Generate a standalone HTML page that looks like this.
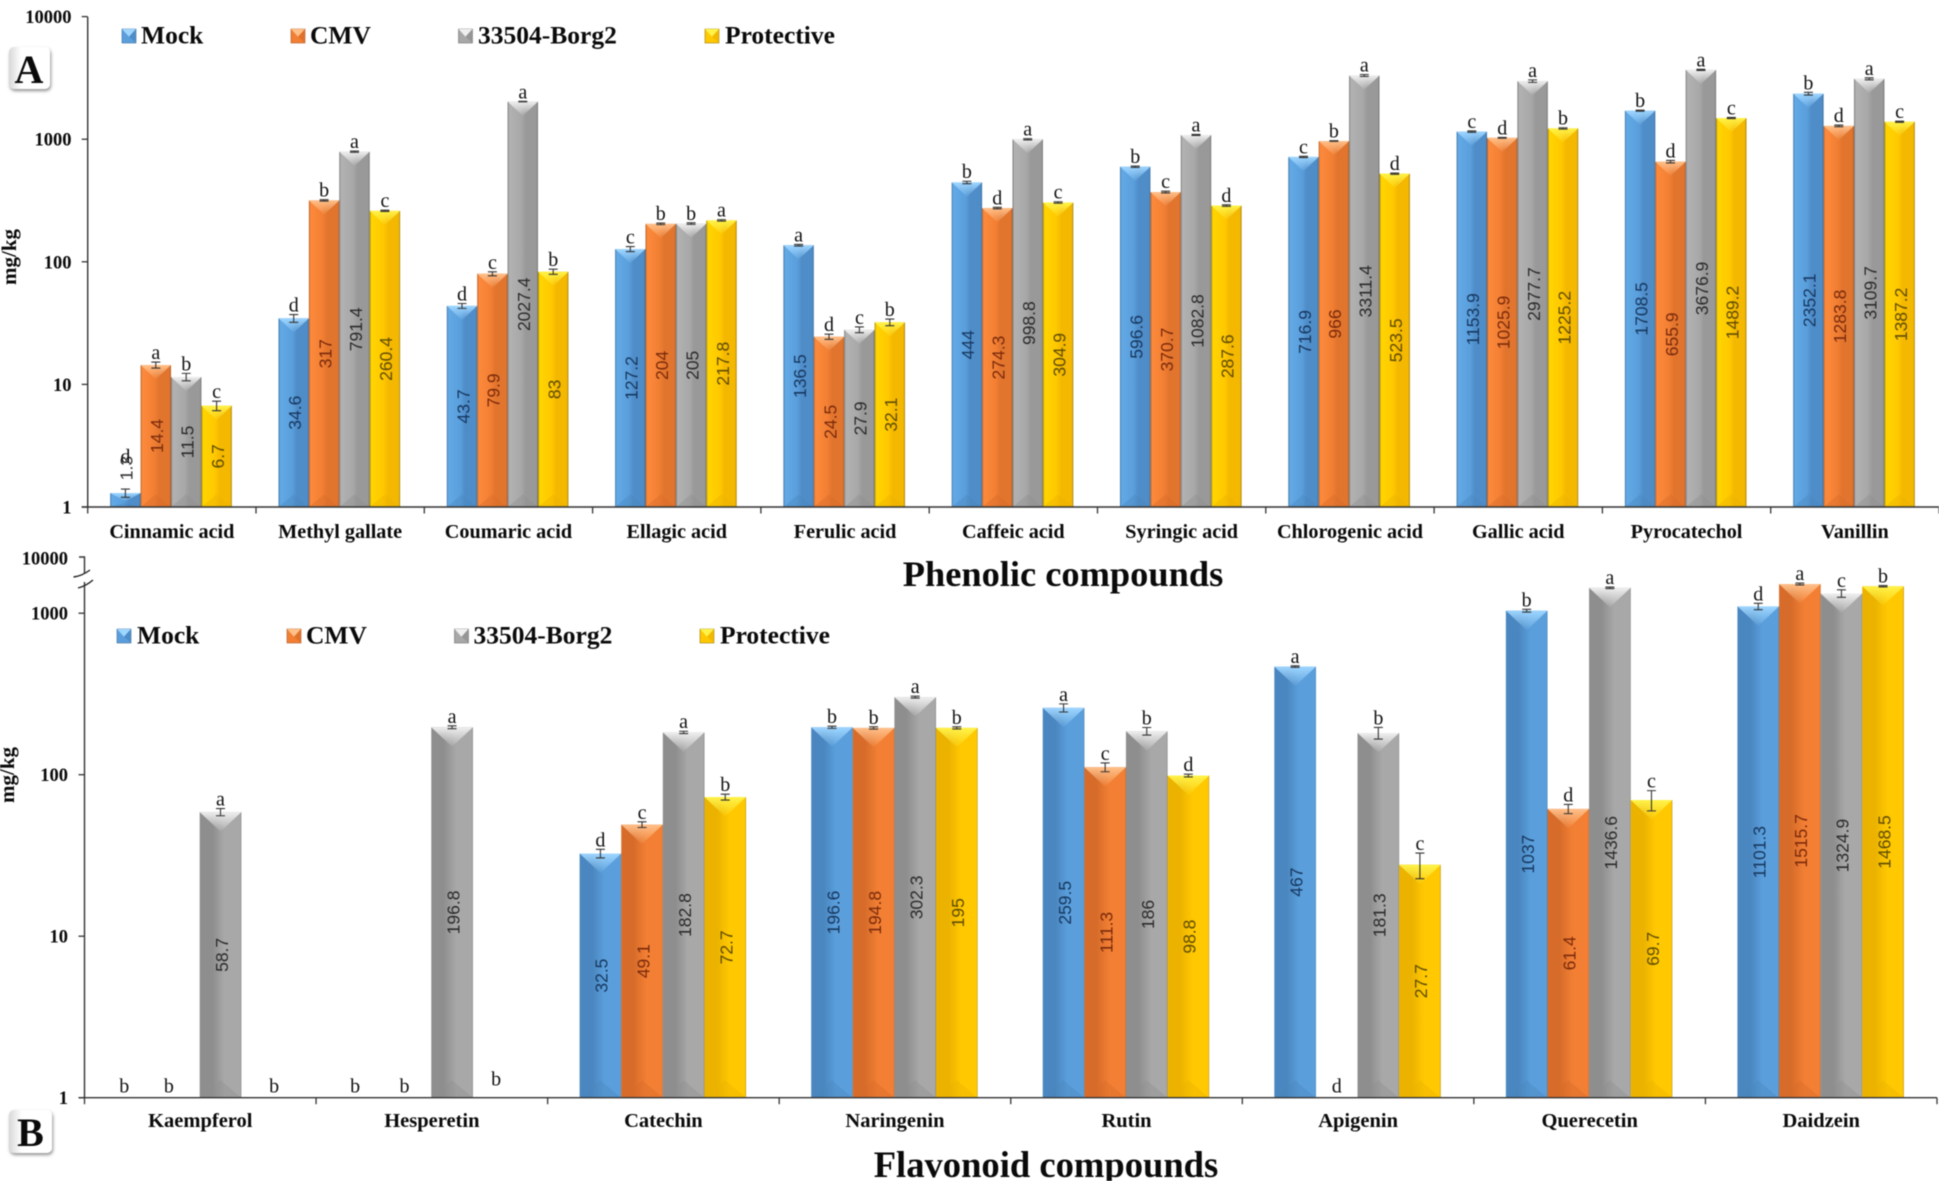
<!DOCTYPE html>
<html lang="en">
<head>
<meta charset="utf-8">
<title>Phenolic and flavonoid compounds</title>
<style>
html,body{margin:0;padding:0;background:#fff;}
svg{display:block;filter:blur(0.4px);}
.serif{font-family:"Liberation Serif",serif;}
.bold{font-family:"Liberation Serif",serif;font-weight:bold;fill:#0a0a0a;}
.val{font-family:"Liberation Sans",sans-serif;font-size:17.5px;}
.sig{font-family:"Liberation Serif",serif;font-size:20px;fill:#111;}
</style>
</head>
<body>
<svg id="figure" xmlns="http://www.w3.org/2000/svg" width="1939" height="1181" viewBox="0 0 1939 1181">
  <defs id="defs">
    <filter id="badgeShadow" x="-20%" y="-20%" width="150%" height="150%">
      <feDropShadow dx="1" dy="2" stdDeviation="1.5" flood-color="#777" flood-opacity="0.8"/>
    </filter>
    <linearGradient id="badgeFill" x1="0" y1="0" x2="1" y2="0">
      <stop offset="0" stop-color="#d8d8d8"/><stop offset="0.3" stop-color="#fff"/><stop offset="1" stop-color="#fff"/>
    </linearGradient>
  </defs>

  <g id="chartA"></g>
  <g id="chartB"></g>

  <text class="bold" x="1063" y="586" font-size="36.4" text-anchor="middle">Phenolic compounds</text>
  <text class="bold" x="1046" y="1177" font-size="36.6" text-anchor="middle">Flavonoid compounds</text>

  <g>
    <rect x="9" y="47" width="41" height="42" rx="5" fill="url(#badgeFill)" filter="url(#badgeShadow)"/>
    <text class="bold" x="29" y="83" font-size="40" text-anchor="middle">A</text>
  </g>
  <g>
    <rect x="9" y="1110" width="43" height="43" rx="5" fill="url(#badgeFill)" filter="url(#badgeShadow)"/>
    <text class="bold" x="30.5" y="1146" font-size="40" text-anchor="middle">B</text>
  </g>
</svg>

<script>
// ---------- Panel A data (mg/kg) ----------
const phenolicCategories = ["Cinnamic acid","Methyl gallate","Coumaric acid","Ellagic acid","Ferulic acid","Caffeic acid","Syringic acid","Chlorogenic acid","Gallic acid","Pyrocatechol","Vanillin"];
const phenolicMock = [1.3,34.6,43.7,127.2,136.5,444,596.6,716.9,1153.9,1708.5,2352.1];
const phenolicCmv = [14.4,317,79.9,204,24.5,274.3,370.7,966,1025.9,655.9,1283.8];
const phenolicBorg = [11.5,791.4,2027.4,205,27.9,998.8,1082.8,3311.4,2977.7,3676.9,3109.7];
const phenolicProtective = [6.7,260.4,83,217.8,32.1,304.9,287.6,523.5,1225.2,1489.2,1387.2];
const phenolicMockErr = [0.1,2.5,2,6,2,10,8,8,15,15,60];
const phenolicCmvErr = [0.8,4,3,3,1.2,4,6,6,8,15,20];
const phenolicBorgErr = [0.8,10,10,3,1.5,12,10,60,70,40,60];
const phenolicProtectiveErr = [0.6,3,4,3,2,4,4,6,15,15,15];
const phenolicMockSig = ["d","d","d","c","a","b","b","c","c","b","b"];
const phenolicCmvSig = ["a","b","c","b","d","d","c","b","d","d","d"];
const phenolicBorgSig = ["b","a","a","b","c","a","a","a","a","a","a"];
const phenolicProtectiveSig = ["c","c","b","a","b","c","d","d","b","c","c"];

// ---------- Panel B data (mg/kg, 0 = not detected) ----------
const flavonoidCategories = ["Kaempferol","Hesperetin","Catechin","Naringenin","Rutin","Apigenin","Querecetin","Daidzein"];
const flavonoidMock = [0,0,32.5,196.6,259.5,467,1037,1101.3];
const flavonoidCmv = [0,0,49.1,194.8,111.3,0,61.4,1515.7];
const flavonoidBorg = [58.7,196.8,182.8,302.3,186,181.3,1436.6,1324.9];
const flavonoidProtective = [0,0,72.7,195,98.8,27.7,69.7,1468.5];
const flavonoidMockErr = [0,0,2,3,15,5,20,50];
const flavonoidCmvErr = [0,0,2,3,7,0,4,20];
const flavonoidBorgErr = [3,4,3,4,10,15,15,70];
const flavonoidProtectiveErr = [0,0,3,3,2,5,10,15];
const flavonoidMockSig = ["b","b","d","b","a","a","b","d"];
const flavonoidCmvSig = ["b","b","c","b","c","d","d","a"];
const flavonoidBorgSig = ["a","a","a","a","b","b","a","c"];
const flavonoidProtectiveSig = ["b","b","b","b","d","c","c","b"];

// ---------- Shared labels ----------
const seriesNames = ["Mock","CMV","33504-Borg2","Protective"];
const phenolicTicks = [1,10,100,1000,10000];
const flavonoidTicks = [1,10,100,1000];
const flavonoidBreakTickLabel = "10000";
const yAxisTitle = "mg/kg";

const NS = "http://www.w3.org/2000/svg";
const defs = document.getElementById("defs");

function make(tag, attrs, parent, text) {
  const n = document.createElementNS(NS, tag);
  for (const k in attrs) n.setAttribute(k, attrs[k]);
  if (text !== undefined) n.textContent = text;
  parent.appendChild(n);
  return n;
}

function gradient(id, horizontal, stops) {
  const g = make("linearGradient", horizontal ? {id:id,x1:0,y1:0,x2:1,y2:0} : {id:id,x1:0,y1:0,x2:0,y2:1}, defs);
  stops.forEach(function (s) {
    make("stop", {offset:s[0], "stop-color":s[1], "stop-opacity":s[2] === undefined ? 1 : s[2]}, g);
  });
}

const looks = [
  {key:"blue", light:"#62a9e6", mid:"#5a9fdc", soft:"#4f8dc9", dark:"#4a86bf", edge:"#3b6d9c", tip:"#9fd6ff", label:"#17375e"},
  {key:"orange", light:"#fd8a3c", mid:"#f27f33", soft:"#e2752e", dark:"#d76c2a", edge:"#a85a25", tip:"#ffc08a", label:"#7a2a0c"},
  {key:"gray", light:"#b2b2b2", mid:"#a8a8a8", soft:"#999999", dark:"#8e8e8e", edge:"#6f6f6f", tip:"#efefef", label:"#2b2b2b"},
  {key:"yellow", light:"#ffd500", mid:"#ffc800", soft:"#f4b800", dark:"#ebb200", edge:"#9b7c10", tip:"#fff34a", label:"#5f4c00"}
];
looks.forEach(function (c) {
  gradient("bodyA-" + c.key, true, [[0,c.edge],[0.05,c.light],[0.45,c.mid],[0.6,c.soft],[0.95,c.soft],[1,c.edge]]);
  gradient("bodyB-" + c.key, true, [[0,c.dark],[0.3,c.dark],[0.6,c.mid],[0.98,c.mid],[1,c.edge]]);
  gradient("tip-" + c.key, false, [[0,c.tip,1],[1,c.tip,0.05]]);
});

function drawChart(root, cfg) {
  const y = function (v) { return cfg.base - cfg.decade * Math.log10(v); };
  const catW = (cfg.xEnd - cfg.xStart) / cfg.categories.length;
  const barW = cfg.barW;
  const groupOffset = cfg.groupOffset;

  // bars, error bars, labels
  cfg.categories.forEach(function (name, ci) {
    const cx0 = cfg.xStart + ci * catW + groupOffset;
    cfg.series.forEach(function (vals, si) {
      const v = vals[ci];
      const x = cx0 + si * barW;
      const mid = x + barW / 2;
      const look = looks[si];
      const sig = cfg.sig[si][ci];
      if (v > 0) {
        const top = y(v);
        const group = make("g", {}, root);
        
        
        make("rect", {x:x, y:top, width:barW, height:cfg.base - top, fill:"url(#" + cfg.bodyPrefix + look.key + ")"}, group);
        const depth = Math.min(barW * 0.47, (cfg.base - top) * 0.6);
        make("polygon", {points:[x,top,x + barW,top,mid,top + depth].join(" "), fill:"url(#tip-" + look.key + ")"}, group);
        const lowDepth = Math.min(barW * 0.42, (cfg.base - top) * 0.3);
        make("polygon", {points:[x,cfg.base,x + barW,cfg.base,mid,cfg.base - lowDepth].join(" "), fill:look.dark, "fill-opacity":0.4}, group);

        // error bar
        const e = cfg.err[si][ci];
        const yHi = y(v + e);
        const yLo = y(Math.max(v - e, 0.01));
        const errBar = make("path", {d:"M" + (mid - 4.5) + " " + yHi + "H" + (mid + 4.5) + "M" + mid + " " + yHi + "V" + yLo + "M" + (mid - 4.5) + " " + yLo + "H" + (mid + 4.5), stroke:"#333", "stroke-width":1.1, fill:"none"}, root);
        
        

        // value label
        const short = cfg.base - top < 40;
        const labelY = short ? top - 25 : (top + cfg.base) / 2;
        const labelX = mid + 1;
        const value = make("text", {class:"val", x:labelX, y:labelY, dy:"0.36em", "text-anchor":"middle", fill:short ? "#333" : look.label, transform:"rotate(-90 " + labelX + " " + labelY + ")"}, root, String(v));
        
        

        // significance letter
        const letterY = short ? top - 30 : yHi - 3;
        const letter = make("text", {class:"sig", x:mid, y:letterY, "text-anchor":"middle"}, root, sig);
        
        
      } else {
        const nudge = cfg.zeroNudge[ci] ? cfg.zeroNudge[ci][si] : 0;
        const letterZero = make("text", {class:"sig", x:mid + nudge, y:cfg.base - (ci === 1 && si === 3 ? 12 : 5), "text-anchor":"middle"}, root, sig);
        
        
      }
    });

    // category label
    const cat = make("text", {class:"bold", x:cfg.xStart + (ci + 0.5) * catW, y:cfg.catBaseline, "font-size":cfg.catSize, "text-anchor":"middle"}, root, name);
    
    

    // category boundary tick
    const tickX = cfg.xStart + (ci + 1) * catW;
    const xTick = make("line", {x1:tickX, x2:tickX, y1:cfg.base, y2:cfg.base + 6.5, stroke:"#333", "stroke-width":1.3}, root);
    
    
  });

  // axes
  const xAxis = make("line", {x1:cfg.xStart - 6, x2:cfg.xEnd, y1:cfg.base, y2:cfg.base, stroke:"#333", "stroke-width":1.4}, root);
  
  
  const xTick0 = make("line", {x1:cfg.xStart, x2:cfg.xStart, y1:cfg.base, y2:cfg.base + 6.5, stroke:"#333", "stroke-width":1.3}, root);
  
  
  const yAxis = make("line", {x1:cfg.xStart, x2:cfg.xStart, y1:cfg.axisTop, y2:cfg.base, stroke:"#333", "stroke-width":1.4}, root);
  
  

  cfg.ticks.forEach(function (t) {
    const ty = y(t);
    const yTick = make("line", {x1:cfg.xStart - 6, x2:cfg.xStart, y1:ty, y2:ty, stroke:"#333", "stroke-width":1.3}, root);
    
    
    const yLabel = make("text", {class:"bold", x:cfg.tickRight, y:ty + 6.5, "font-size":18.5, "text-anchor":"end"}, root, String(t));
    
    
  });

  // y title
  const title = make("text", {class:"bold", x:cfg.titleX, y:cfg.titleY, "font-size":21, "text-anchor":"middle", transform:"rotate(-90 " + cfg.titleX + " " + cfg.titleY + ")"}, root, yAxisTitle);
  
  

  // legend
  cfg.legend.forEach(function (pos, i) {
    const look = looks[i];
    const entry = make("g", {}, root);
    
    
    const s = 14;
    make("rect", {x:pos[0], y:cfg.legendY, width:s, height:s, fill:look.mid, stroke:look.edge, "stroke-width":0.6}, entry);
    make("polygon", {points:[pos[0],cfg.legendY,pos[0] + s,cfg.legendY,pos[0] + s / 2,cfg.legendY + s * 0.55].join(" "), fill:look.tip}, entry);
    make("polygon", {points:[pos[0] + s / 2,cfg.legendY + s * 0.55,pos[0] + s,cfg.legendY,pos[0] + s,cfg.legendY + s].join(" "), fill:look.dark, "fill-opacity":0.7}, entry);
    make("text", {class:"bold", x:pos[1], y:cfg.legendY + 14.5, "font-size":25.5}, entry, seriesNames[i]);
  });
}

drawChart(document.getElementById("chartA"), {
  categories: phenolicCategories,
  series: [phenolicMock, phenolicCmv, phenolicBorg, phenolicProtective],
  err: [phenolicMockErr, phenolicCmvErr, phenolicBorgErr, phenolicProtectiveErr],
  sig: [phenolicMockSig, phenolicCmvSig, phenolicBorgSig, phenolicProtectiveSig],
  ticks: phenolicTicks,
  base: 507, decade: 122.6, xStart: 87.7, xEnd: 1939, barW: 30.4, groupOffset: 22.5,
  axisTop: 16.7, tickRight: 71.5, catBaseline: 538, catSize: 20.2,
  titleX: 16, titleY: 257, bodyPrefix: "bodyA-",
  legendY: 29, legend: [[122,141],[291,310],[458.5,478],[705,725]],
  zeroNudge: {}
});

drawChart(document.getElementById("chartB"), {
  categories: flavonoidCategories,
  series: [flavonoidMock, flavonoidCmv, flavonoidBorg, flavonoidProtective],
  err: [flavonoidMockErr, flavonoidCmvErr, flavonoidBorgErr, flavonoidProtectiveErr],
  sig: [flavonoidMockSig, flavonoidCmvSig, flavonoidBorgSig, flavonoidProtectiveSig],
  ticks: flavonoidTicks,
  base: 1097.7, decade: 161.5, xStart: 84.5, xEnd: 1937, barW: 41.6, groupOffset: 32,
  axisTop: 582, tickRight: 68, catBaseline: 1127, catSize: 20.5,
  titleX: 14, titleY: 775, bodyPrefix: "bodyB-",
  legendY: 629, legend: [[117,137],[287,306],[454.5,473.5],[700,720]],
  zeroNudge: {0:[-13,-10,0,12], 1:[-13.7,-6,0,2.5]}
});

// axis break and the 10000 tick above it (panel B)
(function () {
  const root = document.getElementById("chartB");
  const upper = make("path", {d:"M79 557H84.5V573", stroke:"#333", "stroke-width":1.4, fill:"none"}, root);
  
  
  const slash1 = make("path", {d:"M73.5 577Q82 576 90 570", stroke:"#222", "stroke-width":1.4, fill:"none"}, root);
  
  
  const slash2 = make("path", {d:"M78 588Q86 586 93 580", stroke:"#222", "stroke-width":1.4, fill:"none"}, root);
  
  
  const label = make("text", {class:"bold", x:68, y:564.5, "font-size":18.5, "text-anchor":"end"}, root, flavonoidBreakTickLabel);
  
  
})();
</script>
</body>
</html>
